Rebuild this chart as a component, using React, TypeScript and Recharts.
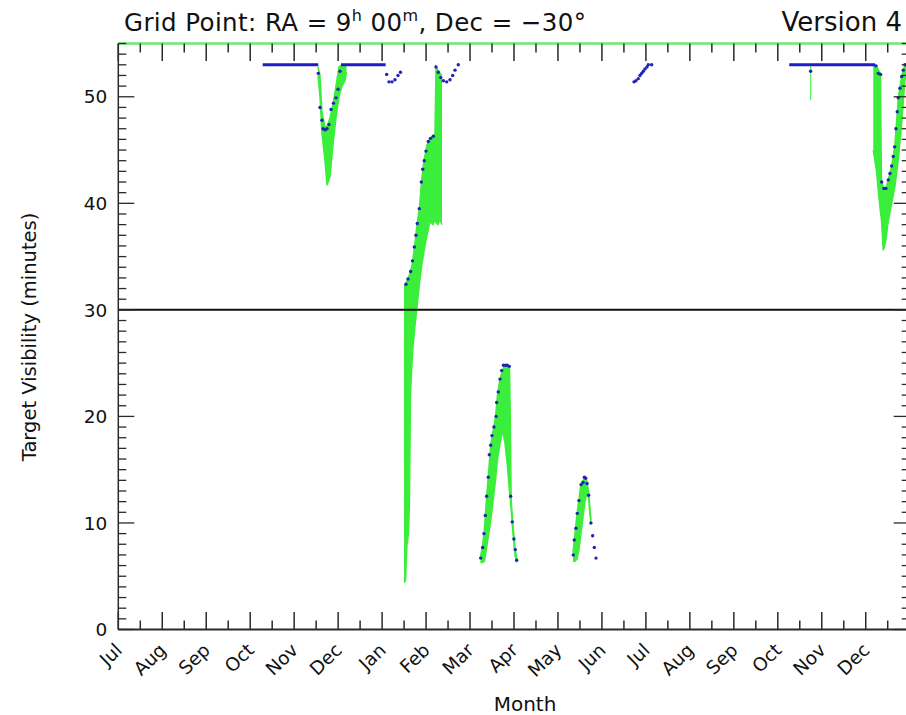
import React from 'react';
import { ComposedChart, Area, Line, Scatter, XAxis, YAxis, ReferenceLine } from 'recharts';

// x is in months from 1 July (0) to 1 January two years on (18)
const monthLabels = ['Jul', 'Aug', 'Sep', 'Oct', 'Nov', 'Dec', 'Jan', 'Feb', 'Mar', 'Apr', 'May', 'Jun',
  'Jul', 'Aug', 'Sep', 'Oct', 'Nov', 'Dec'];
const xTicks = Array.from({ length: 36 }, (_, i) => i / 2);
const yTicks = Array.from({ length: 56 }, (_, i) => i);
const threshold = 30;
const flatLevel = 53;

// spans where visibility sits flat at the top level
const flatRuns = [[3.284, 4.549], [5.065, 6.081], [15.261, 17.21]];

// green bands: [month, min, max]
const bandNov = [
  [4.542, 52.0, 52.8], [4.587, 50.0, 52.0], [4.633, 46.5, 48.5], [4.701, 44.0, 47.2],
  [4.747, 41.7, 47.2], [4.815, 42.5, 48.0], [4.883, 45.5, 49.3], [4.951, 48.0, 51.0],
  [5.019, 50.0, 52.8], [5.088, 51.0, 53.0], [5.156, 51.5, 53.0], [5.19, 52.3, 53.0],
];
const bandFeb = [
  [6.498, 4.4, 32.3], [6.532, 4.6, 32.4], [6.566, 8.0, 32.7], [6.6, 9.0, 33.0],
  [6.622, 12.0, 33.3], [6.645, 22.0, 33.6], [6.68, 25.0, 34.2], [6.702, 26.5, 34.8],
  [6.747, 28.5, 36.2], [6.793, 30.2, 38.0], [6.85, 32.5, 39.6], [6.896, 34.0, 42.0],
  [6.952, 35.5, 44.0], [7.021, 37.0, 45.5], [7.089, 38.3, 46.1], [7.157, 38.0, 46.3],
  [7.203, 38.5, 46.5], [7.226, 38.2, 52.8], [7.271, 38.0, 52.5], [7.316, 38.5, 52.2],
  [7.362, 38.0, 52.0],
];
const bandApr = [
  [8.237, 6.3, 6.8], [8.283, 6.3, 7.8], [8.328, 6.4, 9.5], [8.378, 7.7, 12.5],
  [8.419, 8.8, 14.6], [8.47, 10.2, 17.3], [8.522, 12.0, 18.6], [8.579, 14.0, 19.9],
  [8.624, 16.0, 22.0], [8.681, 17.4, 23.5], [8.742, 18.7, 24.4], [8.795, 17.5, 24.8],
  [8.847, 15.5, 24.8], [8.897, 13.0, 24.7], [8.915, 12.3, 20.0], [8.935, 11.3, 12.2],
  [8.977, 9.0, 9.8], [9.022, 7.0, 7.8], [9.061, 6.3, 6.6],
];
const bandMay = [
  [10.341, 6.4, 7.2], [10.387, 6.4, 9.0], [10.432, 6.6, 10.8], [10.477, 7.5, 12.2],
  [10.523, 9.0, 13.7], [10.568, 10.5, 14.0], [10.614, 12.0, 14.3], [10.659, 12.8, 13.9],
  [10.698, 12.3, 12.9], [10.728, 10.8, 11.3], [10.75, 10.0, 10.3],
];
const bandOct = [[15.736, 49.8, 53.0], [15.759, 49.8, 53.0]];
const bandDec = [
  [17.171, 45.0, 53.0], [17.21, 44.0, 53.0], [17.248, 42.9, 52.9], [17.289, 41.0, 52.5],
  [17.335, 39.2, 52.2], [17.357, 38.5, 42.0], [17.398, 35.6, 41.6], [17.425, 35.9, 41.4],
  [17.459, 36.6, 41.4], [17.512, 38.3, 42.2], [17.59, 40.0, 43.5], [17.664, 41.6, 45.5],
  [17.74, 44.1, 49.9], [17.817, 47.5, 51.9], [17.892, 51.6, 53.0], [17.96, 52.8, 53.0],
];

// blue sample points: [month, minutes]
const dotsNov = [
  [4.549, 52.2], [4.587, 49.0], [4.633, 47.8], [4.656, 47.0], [4.701, 46.9], [4.747, 47.0],
  [4.792, 47.4], [4.838, 48.8], [4.894, 49.4], [4.951, 49.9], [4.997, 50.7], [5.042, 52.4],
];
const dotsJan = [[6.104, 52.1], [6.157, 51.4], [6.225, 51.4], [6.293, 51.6], [6.361, 52.0], [6.418, 52.3]];
const dotsFeb = [
  [6.543, 32.4], [6.589, 32.9], [6.65, 33.6], [6.691, 34.6], [6.732, 35.9], [6.77, 37.0],
  [6.8, 38.1], [6.846, 39.5], [6.891, 42.0], [6.925, 43.2], [6.959, 44.0], [6.998, 44.9],
  [7.05, 45.8], [7.1, 46.1], [7.164, 46.3], [7.226, 52.8], [7.278, 52.3], [7.335, 51.8],
  [7.392, 51.5], [7.469, 51.4], [7.544, 51.6], [7.605, 52.0], [7.658, 52.5], [7.733, 53.0],
];
const dotsApr = [
  [8.242, 6.7], [8.288, 7.7], [8.317, 9.0], [8.347, 10.7], [8.378, 12.5], [8.415, 14.3],
  [8.438, 16.4], [8.47, 17.3], [8.499, 18.2], [8.544, 19.0], [8.593, 20.0], [8.606, 21.3],
  [8.642, 22.3], [8.681, 23.5], [8.719, 24.3], [8.76, 24.8], [8.806, 24.8], [8.847, 24.8],
  [8.893, 24.7], [8.924, 12.5], [8.96, 10.1], [8.999, 8.5], [9.029, 7.5], [9.061, 6.5],
];
const dotsMay = [
  [10.348, 7.0], [10.37, 8.4], [10.409, 9.5], [10.439, 10.9], [10.477, 12.1], [10.526, 13.6],
  [10.571, 13.8], [10.601, 14.3], [10.631, 14.2], [10.662, 13.7], [10.698, 12.6], [10.75, 10.0],
  [10.789, 8.8], [10.826, 7.7], [10.865, 6.7],
];
const dotsJul = [
  [11.729, 51.4], [11.774, 51.5], [11.826, 51.7], [11.865, 52.0], [11.904, 52.2],
  [11.94, 52.4], [11.979, 52.6], [12.024, 52.8], [12.054, 53.0], [12.131, 53.0],
];
const dotsOct = [[15.747, 52.4]];
const dotsDec = [
  [17.232, 52.9], [17.285, 52.2], [17.339, 52.1], [17.362, 42.0], [17.414, 41.4], [17.459, 41.4],
  [17.512, 42.2], [17.551, 42.8], [17.59, 43.5], [17.626, 44.4], [17.658, 45.3], [17.687, 47.0],
  [17.717, 48.6], [17.74, 49.9], [17.778, 50.8], [17.817, 51.9], [17.853, 52.5], [17.892, 53.0],
];

const bands = [bandNov, bandFeb, bandApr, bandMay, bandOct, bandDec];
const dots = [...dotsNov, ...dotsJan, ...dotsFeb, ...dotsApr, ...dotsMay, ...dotsJul, ...dotsOct, ...dotsDec];

const GREEN = '#3cee3c';
const BLUE = '#2222b4';
const AXIS = '#2a2a2a';
const FONT = 'DejaVu Sans';

const toBand = (rows: number[][]) => rows.map(([x, lo, hi]) => ({ x, r: [lo, hi] }));
const toDots = (rows: number[][]) => rows.map(([x, v]) => ({ x, v }));

const BottomTick = (p: any) => {
  const v = p.payload.value;
  const major = Number.isInteger(v);
  const lx = p.x + 5;
  const ly = p.y + 22;
  return (
    <g>
      <line x1={p.x} x2={p.x} y1={p.y} y2={p.y - (major ? 17.5 : 9)} stroke={AXIS} strokeWidth={1.5} />
      {major && (
        <text x={lx} y={ly} transform={`rotate(-44 ${lx} ${ly})`} textAnchor="end"
          fontFamily={FONT} fontSize={18.5} fill="#111">{monthLabels[v]}</text>
      )}
    </g>
  );
};

const TopTick = (p: any) => {
  const major = Number.isInteger(p.payload.value);
  return <line x1={p.x} x2={p.x} y1={p.y} y2={p.y + (major ? 17.5 : 9)} stroke={AXIS} strokeWidth={1.5} />;
};

const LeftTick = (p: any) => {
  const v = p.payload.value;
  const major = v % 10 === 0;
  return (
    <g>
      <line x1={p.x} x2={p.x + (major ? 16 : 8)} y1={p.y} y2={p.y} stroke={AXIS} strokeWidth={1.3} />
      {major && (
        <text x={p.x - 11} y={p.y} dy="0.36em" textAnchor="end" fontFamily={FONT} fontSize={18.5} fill="#111">{v}</text>
      )}
    </g>
  );
};

const RightTick = (p: any) => {
  const major = p.payload.value % 10 === 0;
  return <line x1={p.x} x2={p.x - (major ? 16 : 8)} y1={p.y} y2={p.y} stroke={AXIS} strokeWidth={1.3} />;
};

export default function App() {
  return (
    <div style={{ position: 'fixed', left: 0, top: 0, width: 906, height: 715, overflow: 'hidden', background: '#fff' }}>
      <ComposedChart width={920} height={715} margin={{ top: 0, right: 0, bottom: 0, left: 0 }}>
        <XAxis xAxisId="b" dataKey="x" type="number" domain={[0, 18]} allowDataOverflow ticks={xTicks}
          interval={0} height={85.5} tickSize={0} tickMargin={0} tickLine={false}
          axisLine={{ stroke: AXIS, strokeWidth: 2 }} tick={BottomTick} />
        <XAxis xAxisId="t" orientation="top" dataKey="x" type="number" domain={[0, 18]} allowDataOverflow
          ticks={xTicks} interval={0} height={43.5} tickSize={0} tickMargin={0} tickLine={false}
          axisLine={{ stroke: '#6ee86e', strokeWidth: 2.5 }} tick={TopTick} />
        <YAxis yAxisId="l" type="number" domain={[0, 55]} allowDataOverflow ticks={yTicks} interval={0}
          width={118.3} tickSize={0} tickMargin={0} tickLine={false}
          axisLine={{ stroke: AXIS, strokeWidth: 1.5 }} tick={LeftTick} />
        <YAxis yAxisId="r" orientation="right" type="number" domain={[0, 55]} allowDataOverflow ticks={yTicks}
          interval={0} width={10.3} tickSize={0} tickMargin={0} tickLine={false}
          axisLine={{ stroke: AXIS, strokeWidth: 1.5 }} tick={RightTick} />

        {bands.map((b, i) => (
          <Area key={`band${i}`} xAxisId="b" yAxisId="l" data={toBand(b)} dataKey="r" type="linear"
            stroke={GREEN} strokeWidth={1.5} fill={GREEN} fillOpacity={1} dot={false} activeDot={false}
            isAnimationActive={false} />
        ))}
        {flatRuns.map(([a, b], i) => (
          <Line key={`flat${i}`} xAxisId="b" yAxisId="l" data={[{ x: a, v: flatLevel }, { x: b, v: flatLevel }]}
            dataKey="v" type="linear" stroke="#1c1cc8" strokeWidth={3} dot={false} activeDot={false}
            isAnimationActive={false} />
        ))}
        <Scatter xAxisId="b" yAxisId="l" data={toDots(dots)} dataKey="v" fill={BLUE}
          shape={(p: any) => <circle cx={p.cx} cy={p.cy} r={1.7} fill={BLUE} />} isAnimationActive={false} />
        <ReferenceLine xAxisId="b" yAxisId="l" y={threshold} stroke="#111" strokeWidth={2} />
      </ComposedChart>

      <svg width={906} height={715} style={{ position: 'absolute', left: 0, top: 0, pointerEvents: 'none' }}>
        <text x={124} y={31} fontFamily={FONT} fontSize={24.5} letterSpacing={0.4} fill="#111">
          Grid Point: RA = 9<tspan fontSize={16} dy={-10}>h</tspan><tspan dy={10}> 00</tspan>
          <tspan fontSize={16} dy={-10}>m</tspan><tspan dy={10}>, Dec = −30°</tspan>
        </text>
        <text x={902} y={31} textAnchor="end" fontFamily={FONT} fontSize={26} fill="#111">Version 4</text>
        <text x={36} y={337} transform="rotate(-90 36 337)" textAnchor="middle" fontFamily={FONT}
          fontSize={19.5} fill="#111">Target Visibility (minutes)</text>
        <text x={525} y={711} textAnchor="middle" fontFamily={FONT} fontSize={20} fill="#111">Month</text>
      </svg>
    </div>
  );
}
